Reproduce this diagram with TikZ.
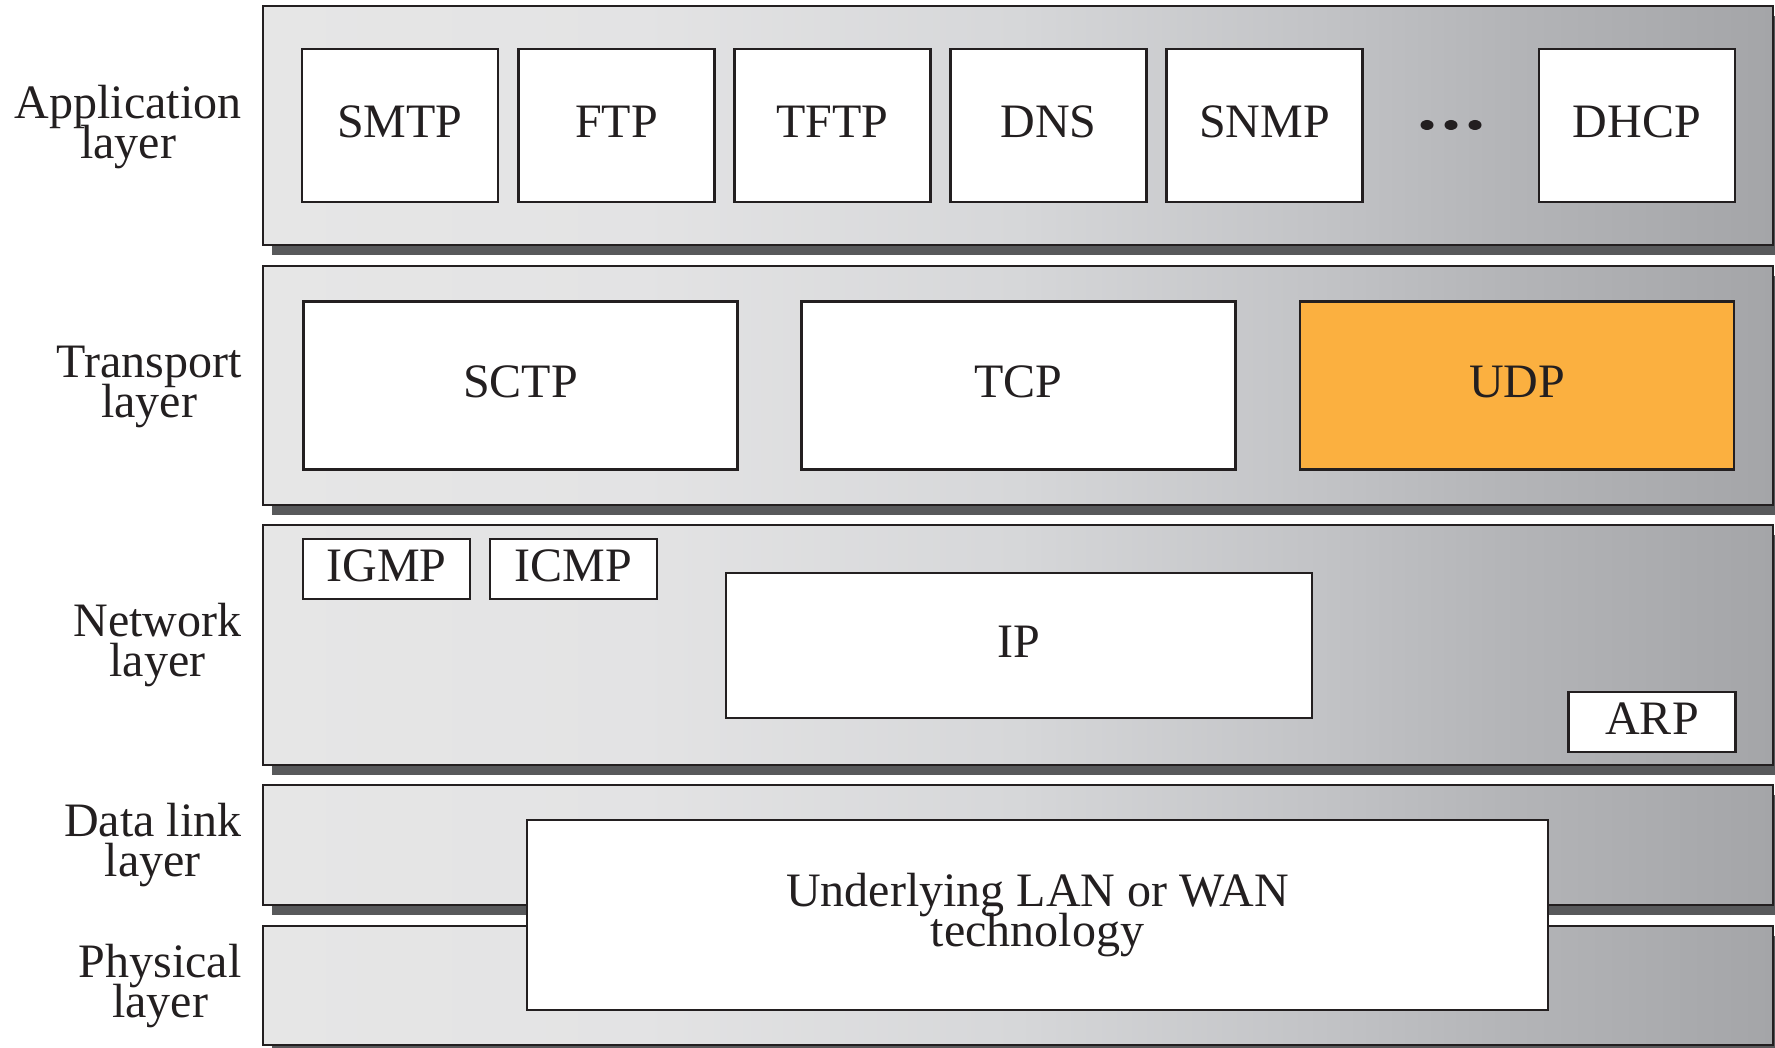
\documentclass[tikz,border=0pt]{standalone}
\usepackage{fontspec}
\setmainfont{Liberation Serif}
\usetikzlibrary{shadows}

\definecolor{edge}{HTML}{231F20}
\definecolor{shadowgray}{HTML}{58595B}
\definecolor{udporange}{HTML}{FBB040}
\definecolor{g0}{HTML}{E6E6E6}
\definecolor{g1}{HTML}{E3E3E4}
\definecolor{g2}{HTML}{D6D7D9}
\definecolor{g3}{HTML}{C2C3C6}
\definecolor{g4}{HTML}{B4B5B8}
\definecolor{g5}{HTML}{A4A5A8}

% light grey on the left, darkening towards the right edge of each layer
\pgfdeclarehorizontalshading{layergrad}{100bp}{color(0bp)=(g0); color(25bp)=(g0);
  color(37.5bp)=(g1); color(50bp)=(g2); color(60bp)=(g3); color(66bp)=(g4);
  color(75bp)=(g5); color(100bp)=(g5)}

% large text with tight, fixed line spacing
\DeclareRobustCommand\diagfont{\fontsize{48}{40}\selectfont\lineskiplimit=-1000pt\relax}

\tikzset{
  txt/.style={font=\diagfont, text=edge},
  band/.style={draw=edge, line width=2.5pt, shading=layergrad, inner sep=0pt,
    minimum width=1510pt,
    drop shadow={shadow xshift=9pt, shadow yshift=-10pt, fill=shadowgray, opacity=1}},
  proto/.style={txt, draw=edge, line width=2.5pt, fill=white, inner sep=0pt,
    text depth=7pt},
  layername/.style={txt, anchor=east, align=center},
  dot/.style={fill=edge, draw=none}
}

\begin{document}
\begin{tikzpicture}[x=1pt, y=-1pt]
\useasboundingbox (0,0) rectangle (1775,1048);
\clip (0,0) rectangle (1775,1048);

% layer bands
\node[band, minimum height=239pt] (appband)   at (1018,125.5) {};
\node[band, minimum height=239pt] (transband) at (1018,385.5) {};
\node[band, minimum height=240pt] (netband)   at (1018,645)   {};
\node[band, minimum height=120pt] (dlband)    at (1018,845)   {};
\node[band, minimum height=119pt] (phyband)   at (1018,985.5) {};

% layer names
\node[layername] (appname)   at (245,127.5) {Application\\layer};
\node[layername] (transname) at (245,386.5) {Transport\\layer};
\node[layername] (netname)   at (245,645.5) {Network\\layer};
\node[layername] (dlname)    at (245,845)   {Data link\\layer};
\node[layername] (phyname)   at (245,986.5) {Physical\\layer};

% application protocols
\tikzset{appbox/.style={proto, minimum width=196pt, minimum height=153pt}}
\node[appbox] (smtp) at (400,125.5)    {SMTP};
\node[appbox] (ftp)  at (616.5,125.5)  {FTP};
\node[appbox] (tftp) at (832.5,125.5)  {TFTP};
\node[appbox] (dns)  at (1048.5,125.5) {DNS};
\node[appbox] (snmp) at (1264.5,125.5) {SNMP};
\node[appbox] (dhcp) at (1637,125.5)   {DHCP};
\fill[dot] (1427,125) ellipse [x radius=6.5, y radius=5];
\fill[dot] (1451,125) ellipse [x radius=6.5, y radius=5];
\fill[dot] (1475,125) ellipse [x radius=6.5, y radius=5];

% transport protocols
\tikzset{trbox/.style={proto, minimum width=434pt, minimum height=168pt}}
\node[trbox] (sctp) at (520.5,385.5)  {SCTP};
\node[trbox] (tcp)  at (1018.5,385.5) {TCP};
\node[trbox, fill=udporange] (udp) at (1517,385.5) {UDP};

% network protocols
\tikzset{smallbox/.style={proto, minimum width=167pt, minimum height=60pt}}
\node[smallbox] (igmp) at (386.5,569) {IGMP};
\node[smallbox] (icmp) at (573.5,569) {ICMP};
\node[proto, minimum width=586pt, minimum height=145pt] (ip) at (1019,645.3) {IP};
\node[smallbox] (arp) at (1652,722) {ARP};

% data link + physical
\node[proto, align=center, text depth=10pt, minimum width=1021pt, minimum height=190pt] (lanwan)
  at (1037.5,915) {Underlying LAN or WAN\\technology};
\end{tikzpicture}
\end{document}
